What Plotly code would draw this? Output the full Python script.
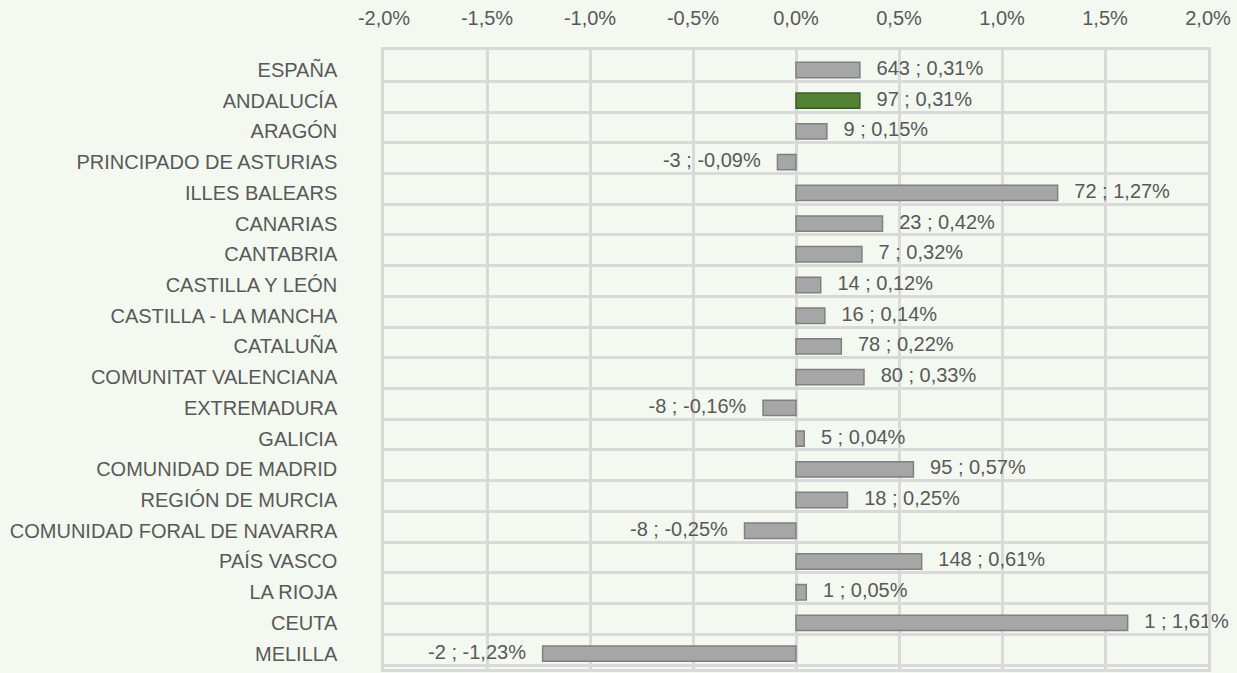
import plotly.graph_objects as go

regions = ["ESPAÑA", "ANDALUCÍA", "ARAGÓN", "PRINCIPADO DE ASTURIAS", "ILLES BALEARS",
           "CANARIAS", "CANTABRIA", "CASTILLA Y LEÓN", "CASTILLA - LA MANCHA", "CATALUÑA",
           "COMUNITAT VALENCIANA", "EXTREMADURA", "GALICIA", "COMUNIDAD DE MADRID",
           "REGIÓN DE MURCIA", "COMUNIDAD FORAL DE NAVARRA", "PAÍS VASCO", "LA RIOJA",
           "CEUTA", "MELILLA"]
counts = [643, 97, 9, -3, 72, 23, 7, 14, 16, 78, 80, -8, 5, 95, 18, -8, 148, 1, 1, -2]
pcts = [0.31, 0.31, 0.15, -0.09, 1.27, 0.42, 0.32, 0.12, 0.14, 0.22, 0.33, -0.16, 0.04,
        0.57, 0.25, -0.25, 0.61, 0.05, 1.61, -1.23]
x_tickvals = [-2.0, -1.5, -1.0, -0.5, 0.0, 0.5, 1.0, 1.5, 2.0]
x_ticktext = ["-2,0%", "-1,5%", "-1,0%", "-0,5%", "0,0%", "0,5%", "1,0%", "1,5%", "2,0%"]
highlight = "ANDALUCÍA"

FONT = "Liberation Sans, Arial, sans-serif"
FS = 20
TXT = "#595959"
GRID = "#D9D9D9"
BG = "#F3F8F1"

n = len(regions)
ypos = list(range(n))
colors = ["#548235" if r == highlight else "#A6A6A6" for r in regions]
lines = ["#3B5E25" if r == highlight else "#808080" for r in regions]

def fmt(c, p):
    s = f"{p:.2f}".replace(".", ",")
    return f"{c} ; {s}%"

labels = [fmt(c, p) for c, p in zip(counts, pcts)]

fig = go.Figure()
fig.add_trace(go.Bar(
    x=pcts, y=ypos, orientation="h", width=0.5,
    marker=dict(color=colors, line=dict(color=lines, width=1.5)),
    hoverinfo="skip",
))
pos_text = ["   " + l if p >= 0 else "" for l, p in zip(labels, pcts)]
neg_text = [l + "   " if p < 0 else "" for l, p in zip(labels, pcts)]
fig.add_trace(go.Scatter(
    x=pcts, y=ypos, mode="text", text=pos_text, textposition="middle right",
    textfont=dict(family=FONT, size=FS, color=TXT), cliponaxis=False, hoverinfo="skip",
))
fig.add_trace(go.Scatter(
    x=pcts, y=ypos, mode="text", text=neg_text, textposition="middle left",
    textfont=dict(family=FONT, size=FS, color=TXT), cliponaxis=False, hoverinfo="skip",
))

fig.update_layout(
    width=1237, height=673,
    margin=dict(l=384, r=29, t=50, b=1),
    paper_bgcolor=BG, plot_bgcolor=BG,
    showlegend=False,
    font=dict(family=FONT, size=FS, color=TXT),
)
fig.update_xaxes(
    side="top", range=[-2, 2], tickmode="array", tickvals=x_tickvals, ticktext=x_ticktext,
    showgrid=True, gridcolor=GRID, gridwidth=2.5, zeroline=False,
    showline=True, linecolor=GRID, linewidth=2.5, mirror=True,
    ticks="", ticklabelstandoff=14,
    tickfont=dict(family=FONT, size=FS, color=TXT),
)
fig.update_yaxes(
    range=[n - 0.5, -0.65], tickmode="array", tickvals=ypos, ticktext=regions,
    showgrid=False, zeroline=False, ticks="",
    showline=True, linecolor=GRID, linewidth=2.5, mirror=True,
    ticklabelstandoff=40,
    tickfont=dict(family=FONT, size=FS, color=TXT),
    minor=dict(tickmode="array", tickvals=[i - 0.63 for i in range(n + 1)],
               showgrid=True, gridcolor=GRID, gridwidth=2.5, ticks=""),
)

fig.write_html(
    "out.html",
    config={"displayModeBar": False},
    post_script="document.body.style.margin='0';document.body.style.background='%s';" % BG,
)
